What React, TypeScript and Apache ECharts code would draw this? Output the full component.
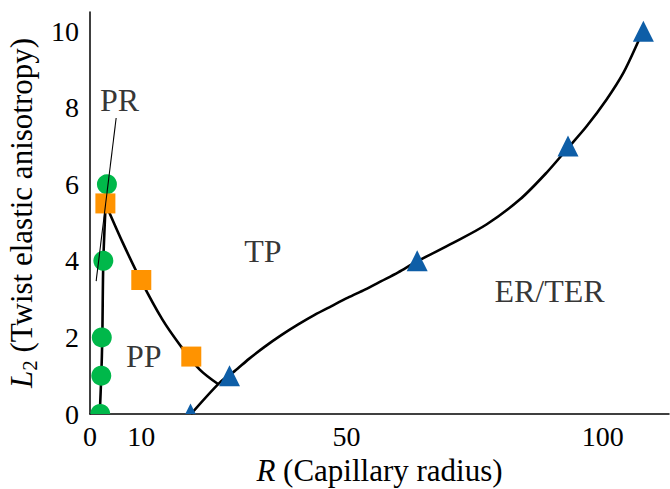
import React, { useEffect, useRef } from "react";
import * as echarts from "echarts";

// ---- data ----
const xTicks = [0, 10, 50, 100];
const prCircles = [
  [2.0, 0], [2.2, 1.0], [2.3, 2.0], [2.6, 4.0], [3.3, 6.0],
];
const ppSquares = [
  [3.0, 5.5], [10.0, 3.5], [19.75, 1.5],
];
const erTriangles = [
  [19.6, 0], [27.2, 1.0], [63.8, 4.0], [93.2, 7.0], [107.9, 10.0],
];
const greenCurve = [
  [1.9, 0], [2.2, 1.0], [2.4, 2.0], [2.6, 4.0], [3.1, 5.6],
];
const orangeCurve = [
  [3.0, 5.5], [6.4, 4.47], [10.0, 3.47], [14.1, 2.47], [17.5, 1.81], [21.4, 1.16], [25.1, 0.77],
];
const blueCurve = [
  [19.7, 0], [25.3, 0.82], [28.2, 1.12], [31.0, 1.44], [34.1, 1.76], [37.3, 2.06],
  [40.6, 2.34], [43.8, 2.59], [47.1, 2.82], [50.3, 3.04], [53.6, 3.25], [56.8, 3.47],
  [60.1, 3.7], [63.7, 3.98], [70.8, 4.47], [77.3, 4.95], [83.8, 5.6], [89.0, 6.3],
  [93.2, 6.95], [96.8, 7.51], [100.7, 8.21], [104.0, 8.91], [106.9, 9.73], [107.7, 10.0],
];
const prPointer = [
  [5.1, 7.73], [1.2, 3.47],
];
const regionLabels = [
  { name: "PR", value: [5.75, 8.21] },
  { name: "TP", value: [33.7, 4.27] },
  { name: "PP", value: [10.5, 1.51] },
  { name: "ER/TER", value: [89.6, 3.2] },
];

const GREEN = "#00b84a";
const ORANGE = "#ff9300";
const BLUE = "#0e5ea7";
const FONT = "'Liberation Serif', 'Times New Roman', serif";

export default function App() {
  const ref = useRef<HTMLDivElement>(null);

  useEffect(() => {
    if (!ref.current) return;
    const chart = echarts.init(ref.current, undefined, { renderer: "svg" });

    const markerSeries = (data: number[][], kind: string, color: string) => ({
      type: "custom",
      clip: true,
      z: 3,
      data,
      renderItem: (params: any, api: any) => {
        const p = api.coord([api.value(0), api.value(1)]);
        if (kind === "circle") {
          return { type: "circle", shape: { cx: p[0], cy: p[1], r: 10 }, style: { fill: color } };
        }
        if (kind === "rect") {
          return { type: "rect", shape: { x: p[0] - 10, y: p[1] - 10, width: 20, height: 20 }, style: { fill: color } };
        }
        return {
          type: "polygon",
          shape: { points: [[p[0], p[1] - 10.5], [p[0] - 10.5, p[1] + 10.5], [p[0] + 10.5, p[1] + 10.5]] },
          style: { fill: color },
        };
      },
    });

    const curve = (data: number[][]) => ({
      type: "line",
      data,
      smooth: 0.3,
      showSymbol: false,
      z: 2,
      lineStyle: { color: "#000", width: 2.6 },
      silent: true,
    });

    const textBase = { fontFamily: FONT, color: "#000" };

    chart.setOption({
      animation: false,
      textStyle: { fontFamily: FONT },
      grid: { left: 90, right: 1, top: 12, bottom: 75, outerBoundsMode: "none", containLabel: false },
      xAxis: {
        type: "value",
        min: 0,
        max: 112.9,
        splitLine: { show: false },
        axisTick: { show: false },
        axisLine: { lineStyle: { color: "#000", width: 1.5 } },
        axisLabel: { customValues: xTicks, fontSize: 28, margin: 8, ...textBase },
        name: "{i|R}{n| (Capillary radius)}",
        nameLocation: "middle",
        nameGap: 41,
        nameTextStyle: {
          fontSize: 31,
          lineHeight: 31,
          ...textBase,
          rich: {
            i: { fontSize: 31, fontStyle: "italic", lineHeight: 31, ...textBase },
            n: { fontSize: 31, lineHeight: 31, ...textBase },
          },
        },
      },
      yAxis: {
        type: "value",
        min: 0,
        max: 10.5,
        interval: 2,
        splitLine: { show: false },
        axisTick: { show: false },
        axisLine: { lineStyle: { color: "#000", width: 1.5 } },
        axisLabel: { fontSize: 28, margin: 11, ...textBase },
        name: "{i|L}{sub|2}{n| (Twist elastic anisotropy)}",
        nameLocation: "middle",
        nameRotate: 90,
        nameGap: 46,
        nameTextStyle: {
          fontSize: 31,
          lineHeight: 37,
          ...textBase,
          rich: {
            i: { fontSize: 31, fontStyle: "italic", lineHeight: 37, ...textBase },
            sub: { fontSize: 21, lineHeight: 21, verticalAlign: "bottom", ...textBase },
            n: { fontSize: 31, lineHeight: 37, ...textBase },
          },
        },
      },
      series: [
        curve(greenCurve),
        curve(orangeCurve),
        curve(blueCurve),
        markerSeries(prCircles, "circle", GREEN),
        markerSeries(ppSquares, "rect", ORANGE),
        markerSeries(erTriangles, "triangle", BLUE),
        {
          type: "line",
          data: prPointer,
          showSymbol: false,
          z: 4,
          lineStyle: { color: "#000", width: 1.1 },
          silent: true,
        },
        {
          type: "scatter",
          data: regionLabels,
          symbolSize: 1,
          z: 5,
          itemStyle: { color: "rgba(0,0,0,0)" },
          label: {
            show: true,
            position: "inside",
            formatter: (p: any) => p.name,
            fontSize: 32,
            ...textBase,
          },
          silent: true,
        },
      ],
    });

    return () => chart.dispose();
  }, []);

  return (
    <div
      ref={ref}
      style={{ position: "fixed", left: 0, top: 0, width: 670, height: 489, background: "#fff" }}
    />
  );
}
